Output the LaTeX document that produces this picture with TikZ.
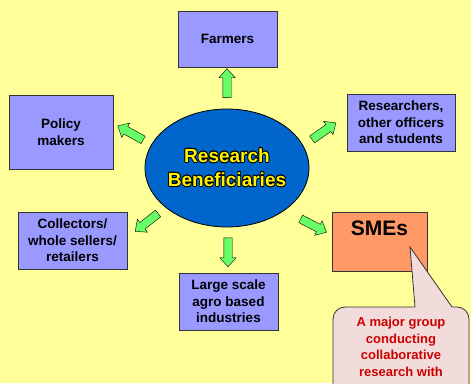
\documentclass[tikz,border=0pt]{standalone}
\usepackage{fontspec}
\setmainfont{Liberation Sans}
\usepackage{contour}
\usetikzlibrary{shapes.geometric,shapes.arrows}

\contourlength{0.7pt}

\definecolor{bgyellow}{HTML}{FFFF99}
\definecolor{boxblue}{HTML}{9999FF}
\definecolor{hubblue}{HTML}{0066CC}
\definecolor{arrowgreen}{HTML}{66FF66}
\definecolor{smeorange}{HTML}{FF9966}
\definecolor{notepink}{HTML}{F2DCDB}
\definecolor{notered}{HTML}{CC0000}

\tikzset{
  group/.style={draw=black!80, fill=boxblue, align=center, inner sep=2pt,
    font=\bfseries\fontsize{13.5}{16.5}\selectfont},
  blockarrow/.style={single arrow, draw=black, fill=arrowgreen, inner xsep=0pt, inner ysep=4pt,
    minimum height=29pt, single arrow head extend=4pt, single arrow tip angle=84},
}

\begin{document}
\begin{tikzpicture}[x=1pt,y=1pt]
    % Background
    \fill[bgyellow] (0,0) rectangle (471,383);
    \useasboundingbox (0,0) rectangle (471,383);

    % Centre
    \node[ellipse, draw=black, thick, fill=hubblue, inner sep=0pt,
          minimum width=164pt, minimum height=118pt] (hub) at (227,215) {};
    \node[align=center, text=yellow, font=\bfseries\fontsize{19}{24}\selectfont]
          (hubtext) at (hub.center) {\contour{black}{Research}\\\contour{black}{Beneficiaries}};

    % Beneficiary groups
    \node[group, minimum width=99pt, minimum height=56pt] (farmers) at (227.5,344) {Farmers};
    \node[group, minimum width=104pt, minimum height=74pt] (policy) at (61,251) {Policy\\makers};
    \node[group, minimum width=108pt, minimum height=57pt] (researchers) at (401,260.5)
        {Researchers,\\other officers\\and students};
    \node[group, minimum width=109pt, minimum height=57pt] (collectors) at (72.5,142.5)
        {Collectors/\\whole sellers/\\retailers};
    \node[group, minimum width=99pt, minimum height=57pt] (industries) at (228.5,81.5)
        {Large scale\\agro based\\industries};
    \node[group, fill=smeorange, minimum width=95pt, minimum height=59pt,
          label={[anchor=north, yshift=-6pt, font=\bfseries\fontsize{21}{24}\selectfont]north:SMEs}]
          (smes) at (379.5,141.5) {};

    % Arrows out of the centre
    \foreach \name/\x/\y/\ang in {tofarmers/227/297.5/90, topolicy/132.5/249/151,
        toresearchers/322/250.5/35, tocollectors/148.5/162/218,
        tosmes/311.5/158.5/-27.5, toindustries/228/133/-90} {
        \node[blockarrow, rotate=\ang] (\name) at (\x,\y) {};
    }

    % Note on the SMEs
    \coordinate (tip) at (410,136);
    \draw[fill=notepink, draw=black!80, thick] (tip) -- (452,76) -- (457,76)
        arc[start angle=90, end angle=0, radius=12] -- (469,-37) -- (333,-37) -- (333,64)
        arc[start angle=180, end angle=90, radius=12] -- (415,76) -- cycle;
    \node[align=center, text=notered, font=\bfseries\fontsize{13}{16.5}\selectfont, anchor=north]
        (note) at (401,69) {A major group\\conducting\\collaborative\\research with};
\end{tikzpicture}
\end{document}
